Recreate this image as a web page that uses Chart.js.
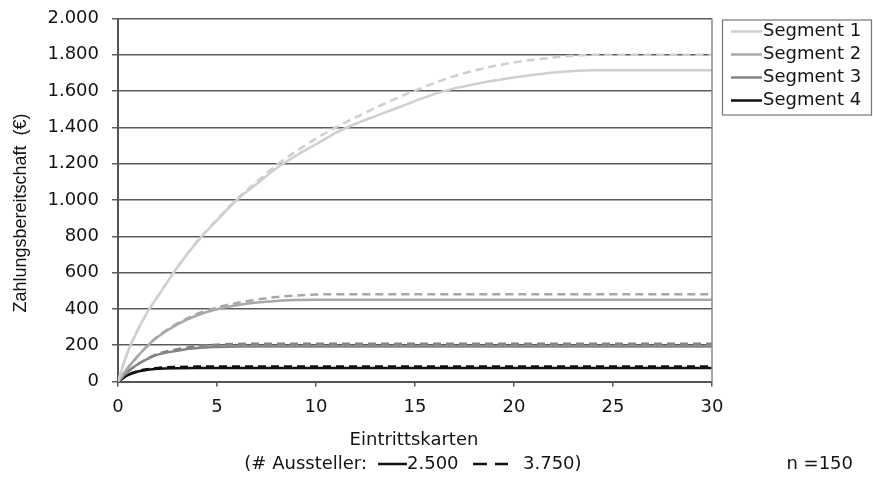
<!DOCTYPE html>
<html>
<head>
<meta charset="utf-8">
<script src="https://cdn.jsdelivr.net/npm/chart.js@4"></script>
<style>
  html, body { margin: 0; padding: 0; background: #fff; }
  #wrap { width: 873px; height: 477px; position: relative; }
</style>
</head>
<body>
<div id="wrap"><canvas id="grafico"></canvas></div>
<script>
// Eintrittskarten (x)
let karten = [0, 0.5, 1, 1.5, 2, 3, 4, 5, 6, 7, 8, 9, 10, 11, 12, 13, 14, 15, 16, 17, 18, 19, 20, 21, 22, 23, 24, 25, 26, 27, 28, 29, 30]

// Zahlungsbereitschaft je Segment, 2.500 Aussteller (durchgezogen) / 3.750 (gestrichelt)
let seg1_2500 = [0, 165, 285, 385, 467, 630, 770, 888, 1000, 1088, 1175, 1245, 1307, 1370, 1420, 1462, 1503, 1545, 1585, 1615, 1638, 1658, 1675, 1690, 1703, 1711, 1715, 1715, 1715, 1715, 1715, 1715, 1715]
let seg1_3750 = [0, 165, 285, 385, 467, 630, 772, 893, 1005, 1100, 1192, 1268, 1338, 1400, 1455, 1507, 1557, 1603, 1645, 1683, 1713, 1738, 1758, 1773, 1785, 1795, 1800, 1800, 1800, 1800, 1800, 1800, 1800]
let seg2_2500 = [0, 75, 140, 198, 245, 315, 365, 398, 420, 435, 444, 449, 450, 450, 450, 450, 450, 450, 450, 450, 450, 450, 450, 450, 450, 450, 450, 450, 450, 450, 450, 450, 450]
let seg2_3750 = [0, 75, 140, 198, 248, 320, 372, 408, 433, 452, 465, 474, 479, 481, 481, 481, 481, 481, 481, 481, 481, 481, 481, 481, 481, 481, 481, 481, 481, 481, 481, 481, 481]
let seg3_2500 = [0, 55, 95, 125, 148, 170, 184, 190, 193, 193, 193, 193, 193, 193, 193, 193, 193, 193, 193, 193, 193, 193, 193, 193, 193, 193, 193, 193, 193, 193, 193, 193, 193]
let seg3_3750 = [0, 55, 95, 127, 152, 178, 195, 203, 207, 208, 208, 208, 208, 208, 208, 208, 208, 208, 208, 208, 208, 208, 208, 208, 208, 208, 208, 208, 208, 208, 208, 208, 208]
let seg4_2500 = [0, 35, 55, 65, 70, 73, 74, 74, 74, 74, 74, 74, 74, 74, 74, 74, 74, 74, 74, 74, 74, 74, 74, 74, 74, 74, 74, 74, 74, 74, 74, 74, 74]
let seg4_3750 = [0, 36, 57, 68, 75, 80, 82, 83, 83, 83, 83, 83, 83, 83, 83, 83, 83, 83, 83, 83, 83, 83, 83, 83, 83, 83, 83, 83, 83, 83, 83, 83, 83]

let segmente = ['Segment 1', 'Segment 2', 'Segment 3', 'Segment 4']
let farben = ['#cfcfcf', '#a8a8a8', '#848484', '#111111']
let y_ticks = ['0', '200', '400', '600', '800', '1.000', '1.200', '1.400', '1.600', '1.800', '2.000']
let x_ticks = ['0', '5', '10', '15', '20', '25', '30']

const FONT = '"DejaVu Sans", sans-serif'
const TEXT = '#141414'

function pontos(valores) {
    return karten.map((k, i) => ({ x: k, y: valores[i] }))
}

function linha(nome, valores, cor, tracejado) {
    return {
        label: nome,
        data: pontos(valores),
        borderColor: cor,
        backgroundColor: cor,
        borderWidth: 2.5,
        borderDash: tracejado ? [8, 5] : [],
        pointRadius: 0,
        cubicInterpolationMode: 'monotone',
        fill: false
    }
}

let series = [
    [seg1_2500, seg1_3750],
    [seg2_2500, seg2_3750],
    [seg3_2500, seg3_3750],
    [seg4_2500, seg4_3750]
]
let datasets = []
series.forEach((s, i) => {
    datasets.push(linha(segmente[i], s[0], farben[i], false))
    datasets.push(linha(segmente[i] + ' (3.750)', s[1], farben[i], true))
})

const extras = {
    id: 'extras',
    afterDraw(chart) {
        const ctx = chart.ctx
        const a = chart.chartArea
        ctx.save()

        // rechter Rahmen
        ctx.strokeStyle = '#8a8a8a'
        ctx.lineWidth = 1.5
        ctx.beginPath()
        ctx.moveTo(a.right, a.top)
        ctx.lineTo(a.right, a.bottom)
        ctx.stroke()

        // Legende
        ctx.strokeStyle = '#777'
        ctx.lineWidth = 1.2
        ctx.strokeRect(722.5, 20, 149, 95)
        let rows = [31.5, 54.5, 77.5, 100.5]
        ctx.font = '18px ' + FONT
        ctx.textBaseline = 'middle'
        ctx.textAlign = 'left'
        segmente.forEach((nome, i) => {
            ctx.strokeStyle = farben[i]
            ctx.lineWidth = 2.5
            ctx.beginPath()
            ctx.moveTo(731, rows[i])
            ctx.lineTo(762, rows[i])
            ctx.stroke()
            ctx.fillStyle = TEXT
            ctx.fillText(nome, 763, rows[i])
        })

        // Achsentitel Y
        ctx.save()
        ctx.translate(21, 213)
        ctx.rotate(-Math.PI / 2)
        ctx.font = '18px "Liberation Sans", Arial, sans-serif'
        ctx.textAlign = 'center'
        ctx.fillStyle = TEXT
        ctx.fillText('Zahlungsbereitschaft  (€)', 0, 0)
        ctx.restore()

        // Achsentitel X
        ctx.fillStyle = TEXT
        ctx.font = '18px ' + FONT
        ctx.textAlign = 'center'
        ctx.fillText('Eintrittskarten', 414, 440)

        // Zeile mit Linienarten
        ctx.textAlign = 'right'
        ctx.fillText('(# Aussteller:', 367, 464)
        ctx.strokeStyle = '#111'
        ctx.lineWidth = 2.5
        ctx.setLineDash([])
        ctx.beginPath()
        ctx.moveTo(378, 464)
        ctx.lineTo(407, 464)
        ctx.stroke()
        ctx.textAlign = 'left'
        ctx.fillText('2.500', 407, 464)
        ctx.beginPath()
        ctx.moveTo(473, 464)
        ctx.lineTo(487, 464)
        ctx.moveTo(495, 464)
        ctx.lineTo(508, 464)
        ctx.stroke()
        ctx.fillText('3.750)', 523, 464)

        ctx.textAlign = 'right'
        ctx.fillText('n =150', 853, 464)

        ctx.restore()
    }
}

let ctx = document.getElementById('grafico')
new Chart(ctx, {
    type: 'line',
    data: { datasets: datasets },
    options: {
        responsive: true,
        maintainAspectRatio: false,
        animation: false,
        layout: { padding: { left: 0, right: 161, top: 18.5, bottom: 0 } },
        plugins: {
            legend: { display: false },
            tooltip: { enabled: false }
        },
        scales: {
            x: {
                type: 'linear',
                min: 0,
                max: 30,
                afterFit: s => { s.height = 95.5; s.paddingLeft = 0; s.paddingRight = 0 },
                ticks: {
                    stepSize: 5,
                    padding: 10,
                    color: TEXT,
                    font: { family: FONT, size: 18 },
                    callback: (v) => x_ticks[v / 5]
                },
                grid: {
                    drawOnChartArea: false,
                    drawTicks: true,
                    tickLength: 5,
                    color: '#555',
                    lineWidth: 1.5
                },
                border: { display: true, color: '#555', width: 2 }
            },
            y: {
                min: 0,
                max: 2000,
                afterFit: s => { s.width = 118; s.paddingTop = 0; s.paddingBottom = 0 },
                ticks: {
                    stepSize: 200,
                    padding: 13,
                    color: TEXT,
                    font: { family: FONT, size: 18 },
                    callback: (v) => y_ticks[v / 200]
                },
                grid: {
                    color: '#5c5c5c',
                    lineWidth: 1.5,
                    tickLength: 6
                },
                border: { display: true, color: '#555', width: 2 }
            }
        }
    },
    plugins: [extras]
})
</script>
</body>
</html>
